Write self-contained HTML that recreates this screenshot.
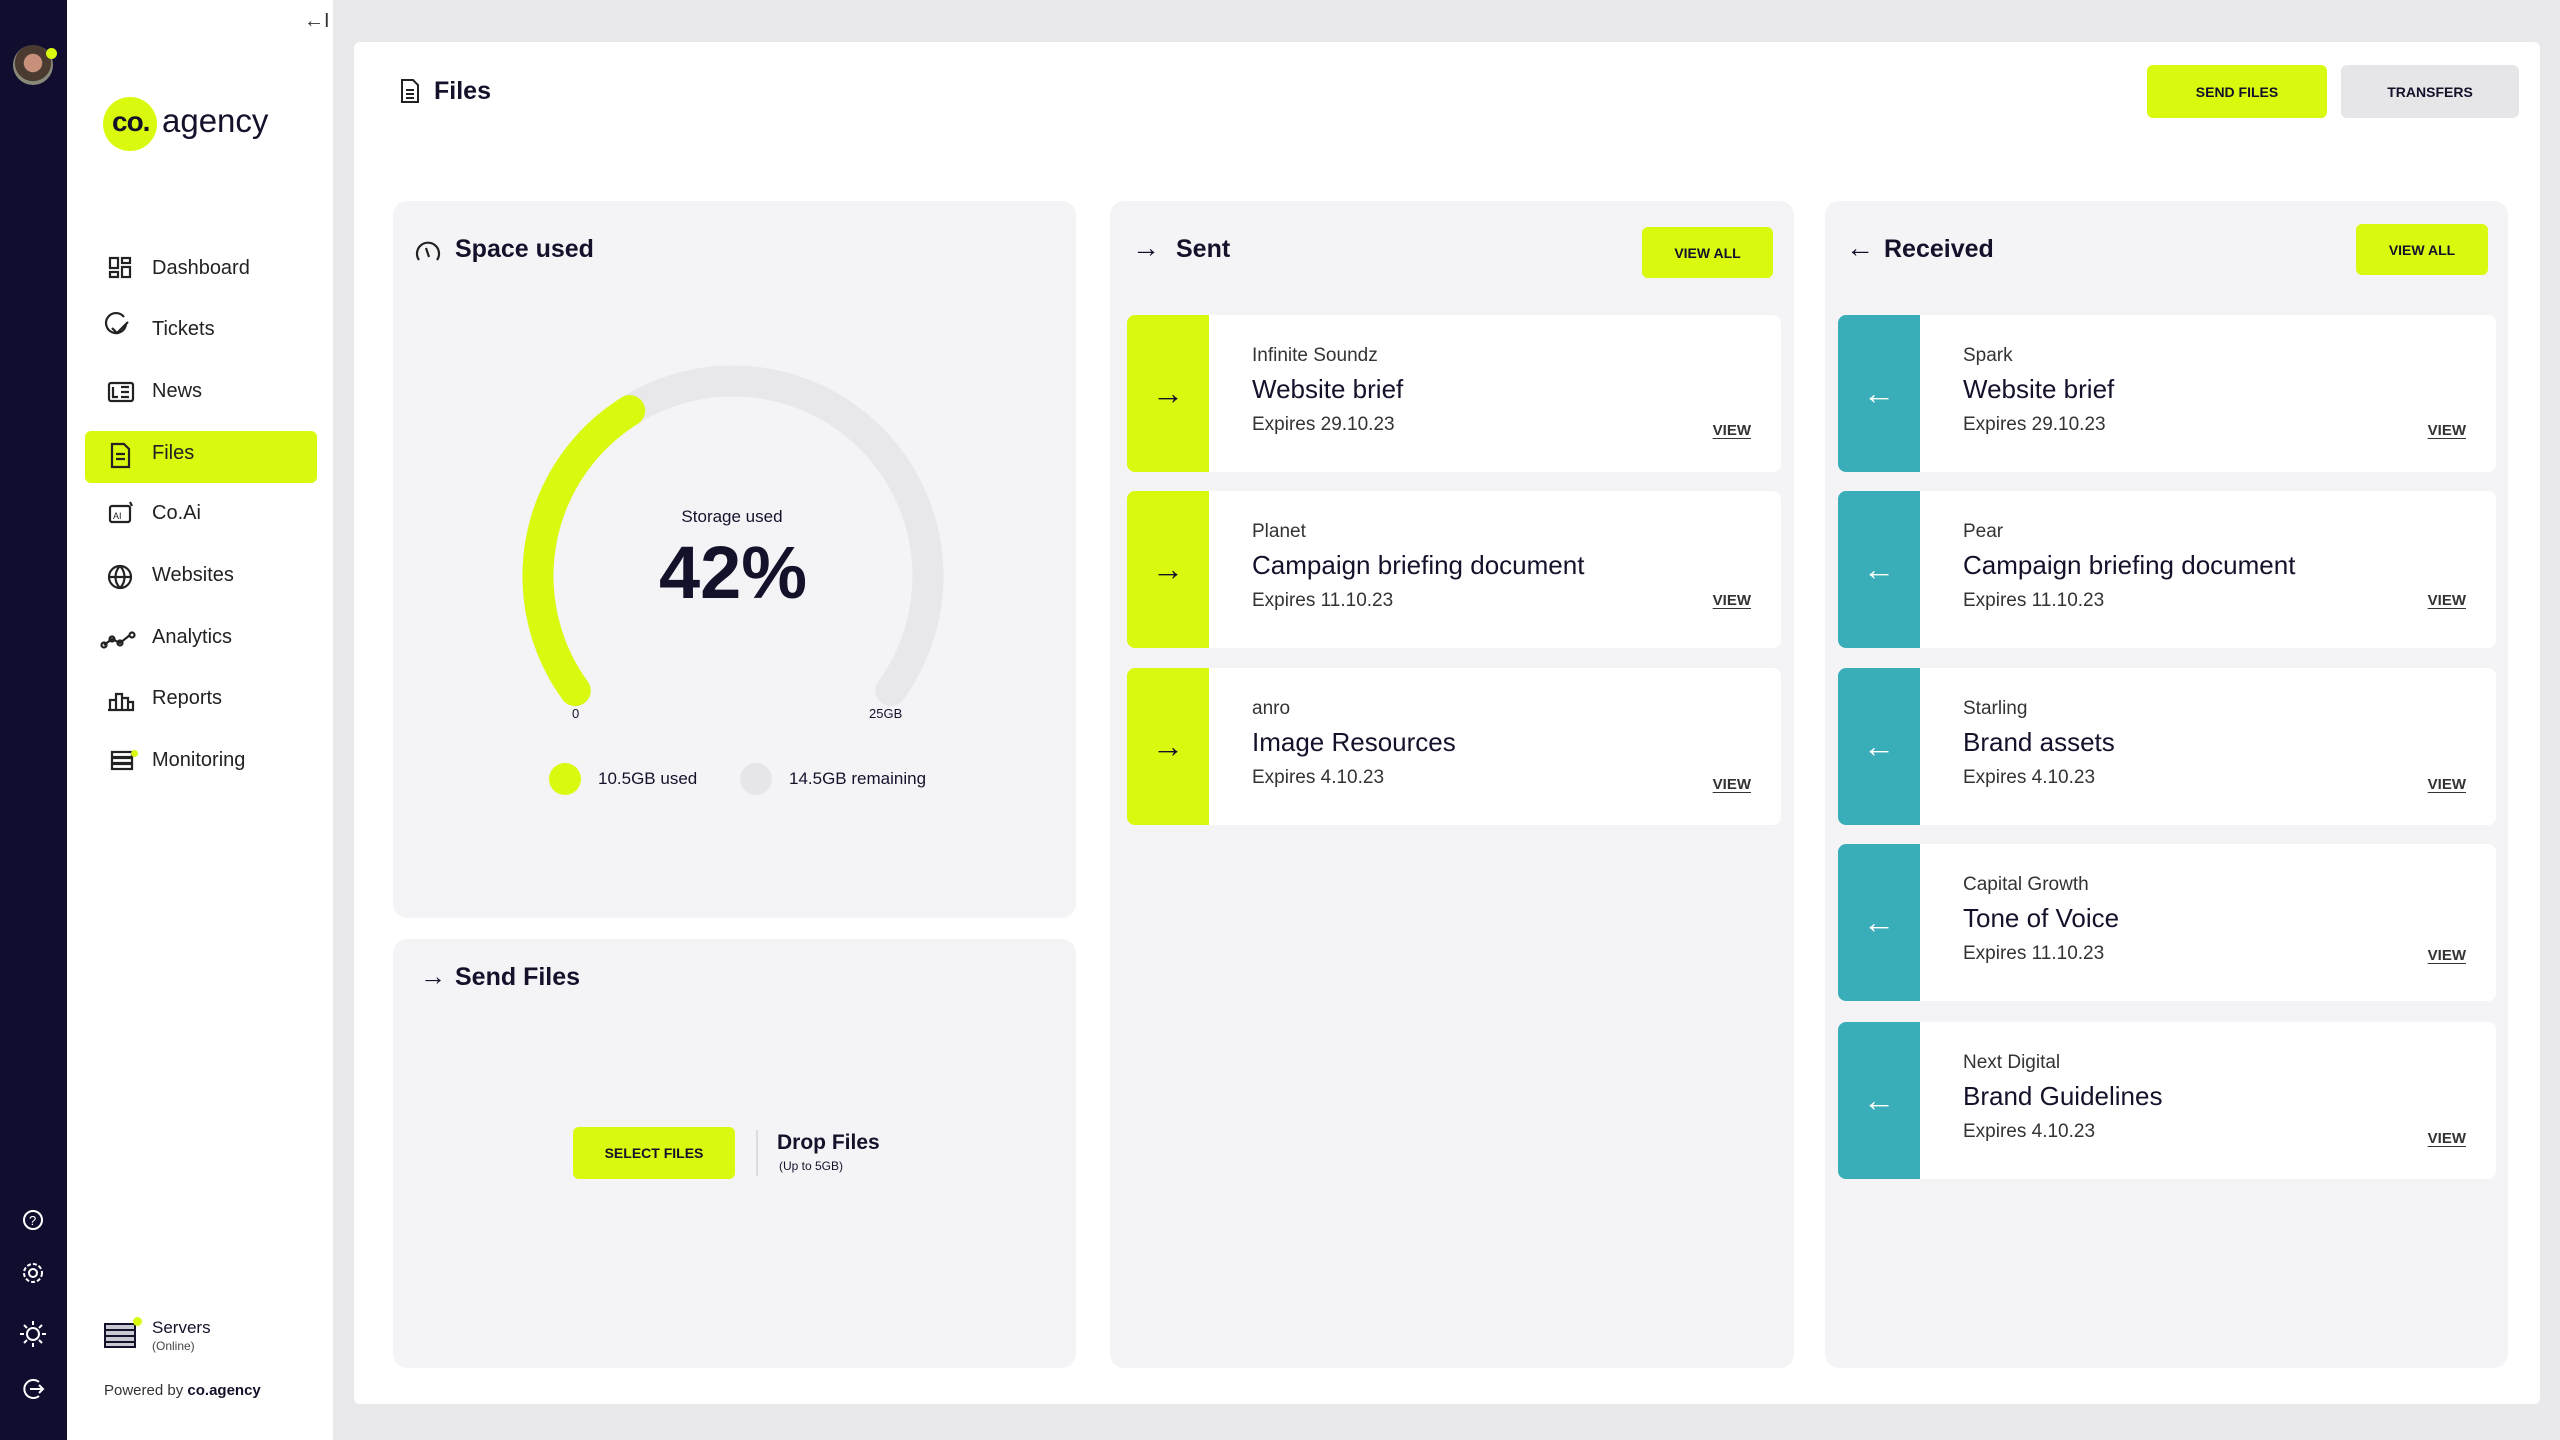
<!DOCTYPE html>
<html><head><meta charset="utf-8"><style>
*{margin:0;padding:0;box-sizing:border-box}
body{width:2560px;height:1440px;background:#e9e9eb;font-family:"Liberation Sans",sans-serif;color:#14122b;position:relative;overflow:hidden}
.a{position:absolute}
.dark{left:0;top:0;width:67px;height:1440px;background:#100d2e}
.side{left:67px;top:0;width:266px;height:1440px;background:#fff}
.nav{position:absolute;left:152px;font-size:20px;color:#222}
.main{left:354px;top:42px;width:2186px;height:1362px;background:#fff;border-radius:6px}
.card{position:absolute;background:#f4f4f6;border-radius:14px}
.btn{position:absolute;background:#d9f90e;border-radius:6px;font-size:14px;font-weight:bold;display:flex;align-items:center;justify-content:center;color:#14122b}
.h{position:absolute;font-size:25px;font-weight:bold}
.item{position:absolute;background:#fff;border-radius:8px;height:157px;overflow:hidden}
.stripe{position:absolute;left:0;top:0;width:82px;height:157px;display:flex;align-items:center;justify-content:center}
.co{position:absolute;left:125px;top:30px;font-size:19px;color:#333}
.ti{position:absolute;left:125px;top:59px;font-size:26px;color:#14122b}
.ex{position:absolute;left:125px;top:99px;font-size:19px;color:#333}
.vw{position:absolute;right:30px;font-size:15px;font-weight:bold;text-decoration:underline;text-underline-offset:3px;color:#333}
</style></head><body>
<div class="a dark"></div>
<div class="a side"></div>
<div class="a" style="left:13px;top:45px;width:40px;height:40px;border-radius:50%;background:radial-gradient(circle at 50% 45%,#c8907a 0 30%,#4a3a30 32% 60%,#8a8a7a 62%)"></div>
<div class="a" style="left:46px;top:48px;width:11px;height:11px;border-radius:50%;background:#d9f90e"></div>
<div class="a" style="left:304px;top:10px;font-size:20px;color:#333">←I</div>
<div class="a" style="left:103px;top:97px;width:54px;height:54px;border-radius:50%;background:#d9f90e"></div>
<div class="a" style="left:112px;top:106px;font-size:28px;font-weight:bold;letter-spacing:-1px">co.</div>
<div class="a" style="left:162px;top:102px;font-size:33px;color:#14122b">agency</div>
<div class="a" style="left:85px;top:431px;width:232px;height:52px;background:#d9f90e;border-radius:6px"></div>
<svg class="a" style="left:100px;top:250px" width="40" height="530" fill="none" stroke="#222" stroke-width="2.2">
<rect x="10" y="8" width="8" height="10"/><rect x="22" y="8" width="8" height="5"/><rect x="10" y="22" width="8" height="5"/><rect x="22" y="17" width="8" height="10"/>
<path d="M26 74a10 10 0 1 1-2-7M12 78l5 5 11-11"/>
<rect x="9" y="133" width="24" height="18" rx="2"/><path d="M13 137v10h5M21 137h8M21 142h8M21 147h8"/>
<path d="M12 194h12l5 5v18H12zM16 204h9M16 209h9"/>
<rect x="10" y="256" width="20" height="16" rx="2"/><text x="13" y="269" font-size="9" fill="#222" stroke="none">AI</text><path d="M30 252l2 4"/>
<circle cx="20" cy="327" r="11"/><path d="M9 327h22M20 316c-6 6-6 16 0 22M20 316c6 6 6 16 0 22"/>
<path d="M4 395l8-6 8 4 10-8" /><circle cx="4" cy="395" r="2.5"/><circle cx="12" cy="389" r="2.5"/><circle cx="20" cy="393" r="2.5"/><circle cx="32" cy="385" r="2.5"/>
<path d="M8 460h26M10 460v-10h6v10M16 460v-16h6v16M22 460v-12h6v12M28 460v-8h5v8"/>
<rect x="12" y="502" width="20" height="5"/><rect x="12" y="508" width="20" height="5"/><rect x="12" y="514" width="20" height="5"/>
</svg>
<div class="a" style="left:131px;top:750px;width:7px;height:7px;border-radius:50%;background:#d9f90e"></div>
<div class="nav" style="top:257px">Dashboard</div>
<div class="nav" style="top:318px">Tickets</div>
<div class="nav" style="top:380px">News</div>
<div class="nav" style="top:442px">Files</div>
<div class="nav" style="top:502px">Co.Ai</div>
<div class="nav" style="top:564px">Websites</div>
<div class="nav" style="top:626px">Analytics</div>
<div class="nav" style="top:687px">Reports</div>
<div class="nav" style="top:749px">Monitoring</div>
<svg class="a" style="left:18px;top:1200px" width="32" height="210" fill="none" stroke="#fff" stroke-width="2">
<circle cx="15" cy="20" r="9"/><text x="11" y="25" font-size="13" fill="#fff" stroke="none">?</text>
<circle cx="15" cy="73" r="4"/><circle cx="15" cy="73" r="9" stroke-dasharray="4 2"/>
<circle cx="15" cy="134" r="6"/><path d="M15 121v4M15 143v4M2 134h4M24 134h4M6 125l3 3M21 140l3 3M6 143l3-3M21 128l3-3"/>
<path d="M21 182a9 9 0 1 0 0 14M12 189h13M21 185l4 4-4 4"/>
</svg>
<svg class="a" style="left:103px;top:1320px" width="40" height="30" fill="#c9c9d4" stroke="#14122b" stroke-width="2"><rect x="2" y="4" width="30" height="6"/><rect x="2" y="10" width="30" height="6"/><rect x="2" y="16" width="30" height="6"/><rect x="2" y="22" width="30" height="5"/></svg>
<div class="a" style="left:133px;top:1317px;width:9px;height:9px;border-radius:50%;background:#d9f90e"></div>
<div class="a" style="left:152px;top:1318px;font-size:17px">Servers</div>
<div class="a" style="left:152px;top:1339px;font-size:12px;color:#444">(Online)</div>
<div class="a" style="left:104px;top:1382px;font-size:15px;color:#333">Powered by <b style="color:#14122b">co.agency</b></div>

<div class="a main"></div>
<svg class="a" style="left:398px;top:78px" width="24" height="26" fill="none" stroke="#222" stroke-width="2"><path d="M4 2h11l5 5v17H4zM8 12h8M8 16h8M8 20h8"/></svg>
<div class="a" style="left:434px;top:77px;font-size:25px;font-weight:bold">Files</div>
<div class="btn" style="left:2147px;top:65px;width:180px;height:53px">SEND FILES</div>
<div class="btn" style="left:2341px;top:65px;width:178px;height:53px;background:#e6e6e9">TRANSFERS</div>

<div class="card" style="left:393px;top:201px;width:683px;height:717px"></div>
<svg class="a" style="left:413px;top:238px" width="30" height="26" fill="none" stroke="#222" stroke-width="2.2"><path d="M6 22a11 11 0 1 1 18 0M13 10l3 9"/></svg>
<div class="h" style="left:455px;top:235px">Space used</div>
<svg class="a" style="left:393px;top:201px" width="683" height="717">
<g transform="translate(-393,-201)" fill="none" stroke-linecap="round" stroke-width="31">
<path d="M575.2 690.6 A195 195 0 1 1 890.8 690.6" stroke="#e8e8eb"/>
<path d="M575.2 690.6 A195 195 0 0 1 629.7 410.6" stroke="#d9f90e"/>
</g></svg>
<div class="a" style="left:632px;top:507px;width:200px;text-align:center;font-size:17px">Storage used</div>
<div class="a" style="left:583px;top:530px;width:300px;text-align:center;font-size:74px;font-weight:bold">42%</div>
<div class="a" style="left:572px;top:706px;font-size:13px">0</div>
<div class="a" style="left:869px;top:706px;font-size:13px">25GB</div>
<div class="a" style="left:549px;top:763px;width:32px;height:32px;border-radius:50%;background:#d9f90e"></div>
<div class="a" style="left:598px;top:769px;font-size:17px">10.5GB used</div>
<div class="a" style="left:740px;top:763px;width:32px;height:32px;border-radius:50%;background:#e6e6e9"></div>
<div class="a" style="left:789px;top:769px;font-size:17px">14.5GB remaining</div>

<div class="card" style="left:393px;top:939px;width:683px;height:429px"></div>
<div class="a" style="left:420px;top:961px;font-size:26px">→</div>
<div class="h" style="left:455px;top:963px">Send Files</div>
<div class="btn" style="left:573px;top:1127px;width:162px;height:52px">SELECT FILES</div>
<div class="a" style="left:756px;top:1130px;width:2px;height:46px;background:#ddd"></div>
<div class="a" style="left:777px;top:1131px;font-size:21px;font-weight:bold">Drop Files</div>
<div class="a" style="left:779px;top:1159px;font-size:12px">(Up to 5GB)</div>

<div class="card" style="left:1110px;top:201px;width:684px;height:1167px"></div>
<div class="a" style="left:1132px;top:232px;font-size:28px">→</div>
<div class="h" style="left:1176px;top:235px">Sent</div>
<div class="btn" style="left:1642px;top:227px;width:131px;height:51px">VIEW ALL</div>

<div class="item" style="left:1127px;top:315px;width:654px"><div class="stripe" style="background:#d9f90e;font-size:32px">→</div><div class="co">Infinite Soundz</div><div class="ti">Website brief</div><div class="ex">Expires 29.10.23</div><div class="vw" style="top:107px">VIEW</div></div>
<div class="item" style="left:1127px;top:491px;width:654px"><div class="stripe" style="background:#d9f90e;font-size:32px">→</div><div class="co">Planet</div><div class="ti">Campaign briefing document</div><div class="ex">Expires 11.10.23</div><div class="vw" style="top:101px">VIEW</div></div>
<div class="item" style="left:1127px;top:668px;width:654px"><div class="stripe" style="background:#d9f90e;font-size:32px">→</div><div class="co">anro</div><div class="ti">Image Resources</div><div class="ex">Expires 4.10.23</div><div class="vw" style="top:108px">VIEW</div></div>

<div class="card" style="left:1825px;top:201px;width:683px;height:1167px"></div>
<div class="a" style="left:1846px;top:232px;font-size:28px">←</div>
<div class="h" style="left:1884px;top:235px">Received</div>
<div class="btn" style="left:2356px;top:224px;width:132px;height:51px">VIEW ALL</div>

<div class="item" style="left:1838px;top:315px;width:658px"><div class="stripe" style="background:#3aaeb8;color:#fff;font-size:32px">←</div><div class="co">Spark</div><div class="ti">Website brief</div><div class="ex">Expires 29.10.23</div><div class="vw" style="top:107px">VIEW</div></div>
<div class="item" style="left:1838px;top:491px;width:658px"><div class="stripe" style="background:#3aaeb8;color:#fff;font-size:32px">←</div><div class="co">Pear</div><div class="ti">Campaign briefing document</div><div class="ex">Expires 11.10.23</div><div class="vw" style="top:101px">VIEW</div></div>
<div class="item" style="left:1838px;top:668px;width:658px"><div class="stripe" style="background:#3aaeb8;color:#fff;font-size:32px">←</div><div class="co">Starling</div><div class="ti">Brand assets</div><div class="ex">Expires 4.10.23</div><div class="vw" style="top:108px">VIEW</div></div>
<div class="item" style="left:1838px;top:844px;width:658px"><div class="stripe" style="background:#3aaeb8;color:#fff;font-size:32px">←</div><div class="co">Capital Growth</div><div class="ti">Tone of Voice</div><div class="ex">Expires 11.10.23</div><div class="vw" style="top:103px">VIEW</div></div>
<div class="item" style="left:1838px;top:1022px;width:658px"><div class="stripe" style="background:#3aaeb8;color:#fff;font-size:32px">←</div><div class="co">Next Digital</div><div class="ti">Brand Guidelines</div><div class="ex">Expires 4.10.23</div><div class="vw" style="top:108px">VIEW</div></div>
</body></html>
